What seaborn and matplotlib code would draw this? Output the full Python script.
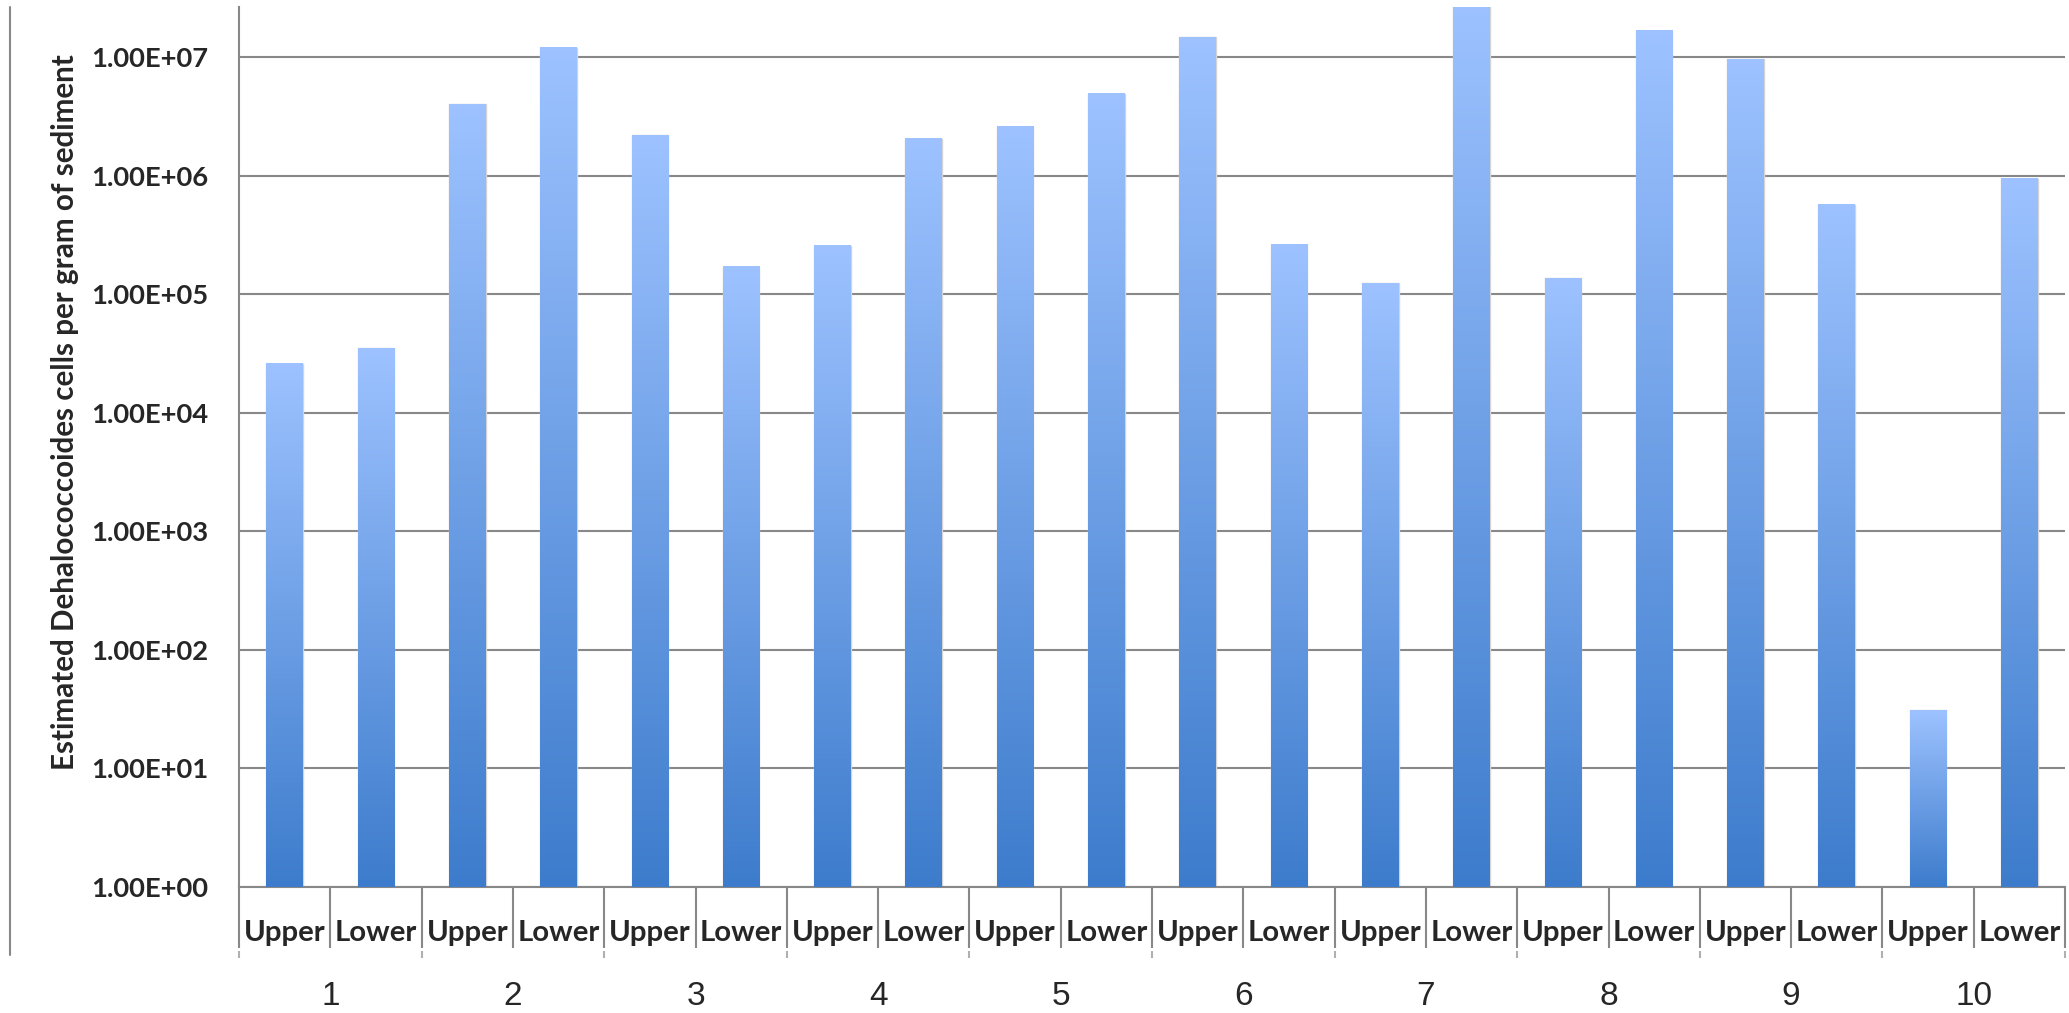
import numpy as np
import pandas as pd
import matplotlib
matplotlib.use("Agg")
import matplotlib.pyplot as plt
from matplotlib import font_manager
from matplotlib.colors import LinearSegmentedColormap
from matplotlib.lines import Line2D
from matplotlib.ticker import FixedLocator, FuncFormatter
import seaborn as sns

# Dehalococcoides cell estimates per site and sediment depth
sites = ["1", "2", "3", "4", "5", "6", "7", "8", "9", "10"]
depths = ["Upper", "Lower"]
upper_cells = [2.6e4, 4.0e6, 2.2e6, 2.55e5, 2.57e6, 1.47e7, 1.24e5, 1.36e5, 9.6e6, 31]
lower_cells = [3.5e4, 1.2e7, 1.7e5, 2.04e6, 4.9e6, 2.6e5, 2.9e7, 1.67e7, 5.7e5, 9.4e5]

rows = []
for s, u, l in zip(sites, upper_cells, lower_cells):
    rows.append({"site": s, "depth": "Upper", "cells": u})
    rows.append({"site": s, "depth": "Lower", "cells": l})
df = pd.DataFrame(rows)
df["key"] = df["site"] + " " + df["depth"]


def has_bold(family):
    for f in font_manager.fontManager.ttflist:
        if f.name == family and f.weight in (600, 700, 800, "bold", "semibold", "demibold"):
            return True
    return False


bold_family = next((f for f in ["Lato", "Open Sans", "Roboto", "Noto Sans"] if has_bold(f)),
                   "DejaVu Sans")

sns.set_theme(style="white")
plt.rcParams["font.family"] = [bold_family, "DejaVu Sans"]
plt.rcParams["font.weight"] = "bold"

W, H = 2069, 1013
fig = plt.figure(figsize=(W / 100, H / 100), dpi=100)
renderer = fig.canvas.get_renderer()


def fit_size(text, width_px, base=20.0, **kw):
    t = fig.text(0, 0, text, fontsize=base, **kw)
    w = t.get_window_extent(renderer=renderer).width
    t.remove()
    return base * width_px / w


tick_size = fit_size("1.00E+07", 118, fontweight="bold")
depth_size = fit_size("Upper", 82, fontweight="bold")
ylabel_text = "Estimated Dehalococcoides cells per gram of sediment"
ylabel_size = fit_size(ylabel_text, 718, fontweight="bold")

ax = fig.add_axes([239 / W, 1 - 887 / H, (2065 - 239) / W, (887 - 7) / H])

grid_col = "#888888"
sns.barplot(data=df, x="key", y="cells", color="#5a95e0", width=0.4,
            errorbar=None, ax=ax, edgecolor="#d4d4d4", linewidth=1.0)
ax.set_yscale("log")
ax.set_ylim(1, 10 ** 7.422)
ax.set_xlim(-0.5, len(df) - 0.5)

# y axis: decades with Excel-style scientific labels
decades = [10.0 ** k for k in range(0, 8)]
ax.yaxis.set_major_locator(FixedLocator(decades))
ax.yaxis.set_minor_locator(FixedLocator([]))
ax.yaxis.set_major_formatter(FuncFormatter(lambda v, p: f"{v:.2E}"))
ax.tick_params(axis="y", which="major", direction="out", length=7.2, width=1.5,
               color=grid_col, pad=15, labelsize=tick_size)
ax.grid(axis="y", color=grid_col, linewidth=1.5)
ax.set_axisbelow(True)
ax.set_ylabel("")

for side in ["top", "right"]:
    ax.spines[side].set_visible(False)
for side in ["left", "bottom"]:
    ax.spines[side].set_color(grid_col)
    ax.spines[side].set_linewidth(1.5)

# x axis: depth labels under each bar
ax.set_xticks(range(len(df)))
ax.set_xticklabels(df["depth"])
ax.tick_params(axis="x", which="major", length=0, pad=24, labelsize=depth_size)
ax.set_xlabel("")

# cell separators below the plot
trans = ax.get_xaxis_transform()
ax_h = 887 - 7
bounds = np.arange(-0.5, len(df), 1.0)
ax.vlines(bounds, 0, -61 / ax_h, transform=trans, colors=grid_col,
          linewidth=1.5, clip_on=False)
group_bounds = np.arange(-0.5, len(df), 2.0)
ax.vlines(group_bounds, -64 / ax_h, -71 / ax_h, transform=trans,
          colors="#b0b0b0", linewidth=1.5, clip_on=False)

# site numbers centred under each pair
for i, s in enumerate(sites):
    ax.text(2 * i + 0.5, -(996 - 887) / ax_h, s, transform=trans,
            ha="center", va="center", fontsize=24, fontweight="normal",
            family=["Liberation Sans", "DejaVu Sans"], clip_on=False)

# vertical gradient fill for each bar, light at the top and darker at the base
cmap = LinearSegmentedColormap.from_list("barfill", ["#3d7ccc", "#9dc2ff"])
grad = np.linspace(0, 1, 256).reshape(-1, 1)
fig.canvas.draw()
to_axes = ax.transData + ax.transAxes.inverted()
for p in ax.patches:
    x0 = p.get_x()
    x1 = x0 + p.get_width()
    top = p.get_y() + p.get_height()
    (ax0, ay0) = to_axes.transform((x0, 1.0))
    (ax1, ay1) = to_axes.transform((x1, top))
    p.set_facecolor("none")
    p.set_zorder(2)
    ax.imshow(grad, cmap=cmap, origin="lower", aspect="auto",
              extent=(ax0, ax1, ay0, ay1), transform=ax.transAxes,
              interpolation="bilinear", zorder=3)
ax.set_xlim(-0.5, len(df) - 0.5)
ax.set_ylim(1, 10 ** 7.422)

fig.text(65 / W, 1 - 412 / H, ylabel_text,
         rotation=90, ha="center", va="center", fontsize=ylabel_size,
         fontweight="bold")

# outer frame line on the left
fig.add_artist(Line2D([10 / W, 10 / W], [1 - 7 / H, 1 - 955 / H],
                      transform=fig.transFigure, color=grid_col, linewidth=1.5))

fig.savefig("out.png", dpi=100)
